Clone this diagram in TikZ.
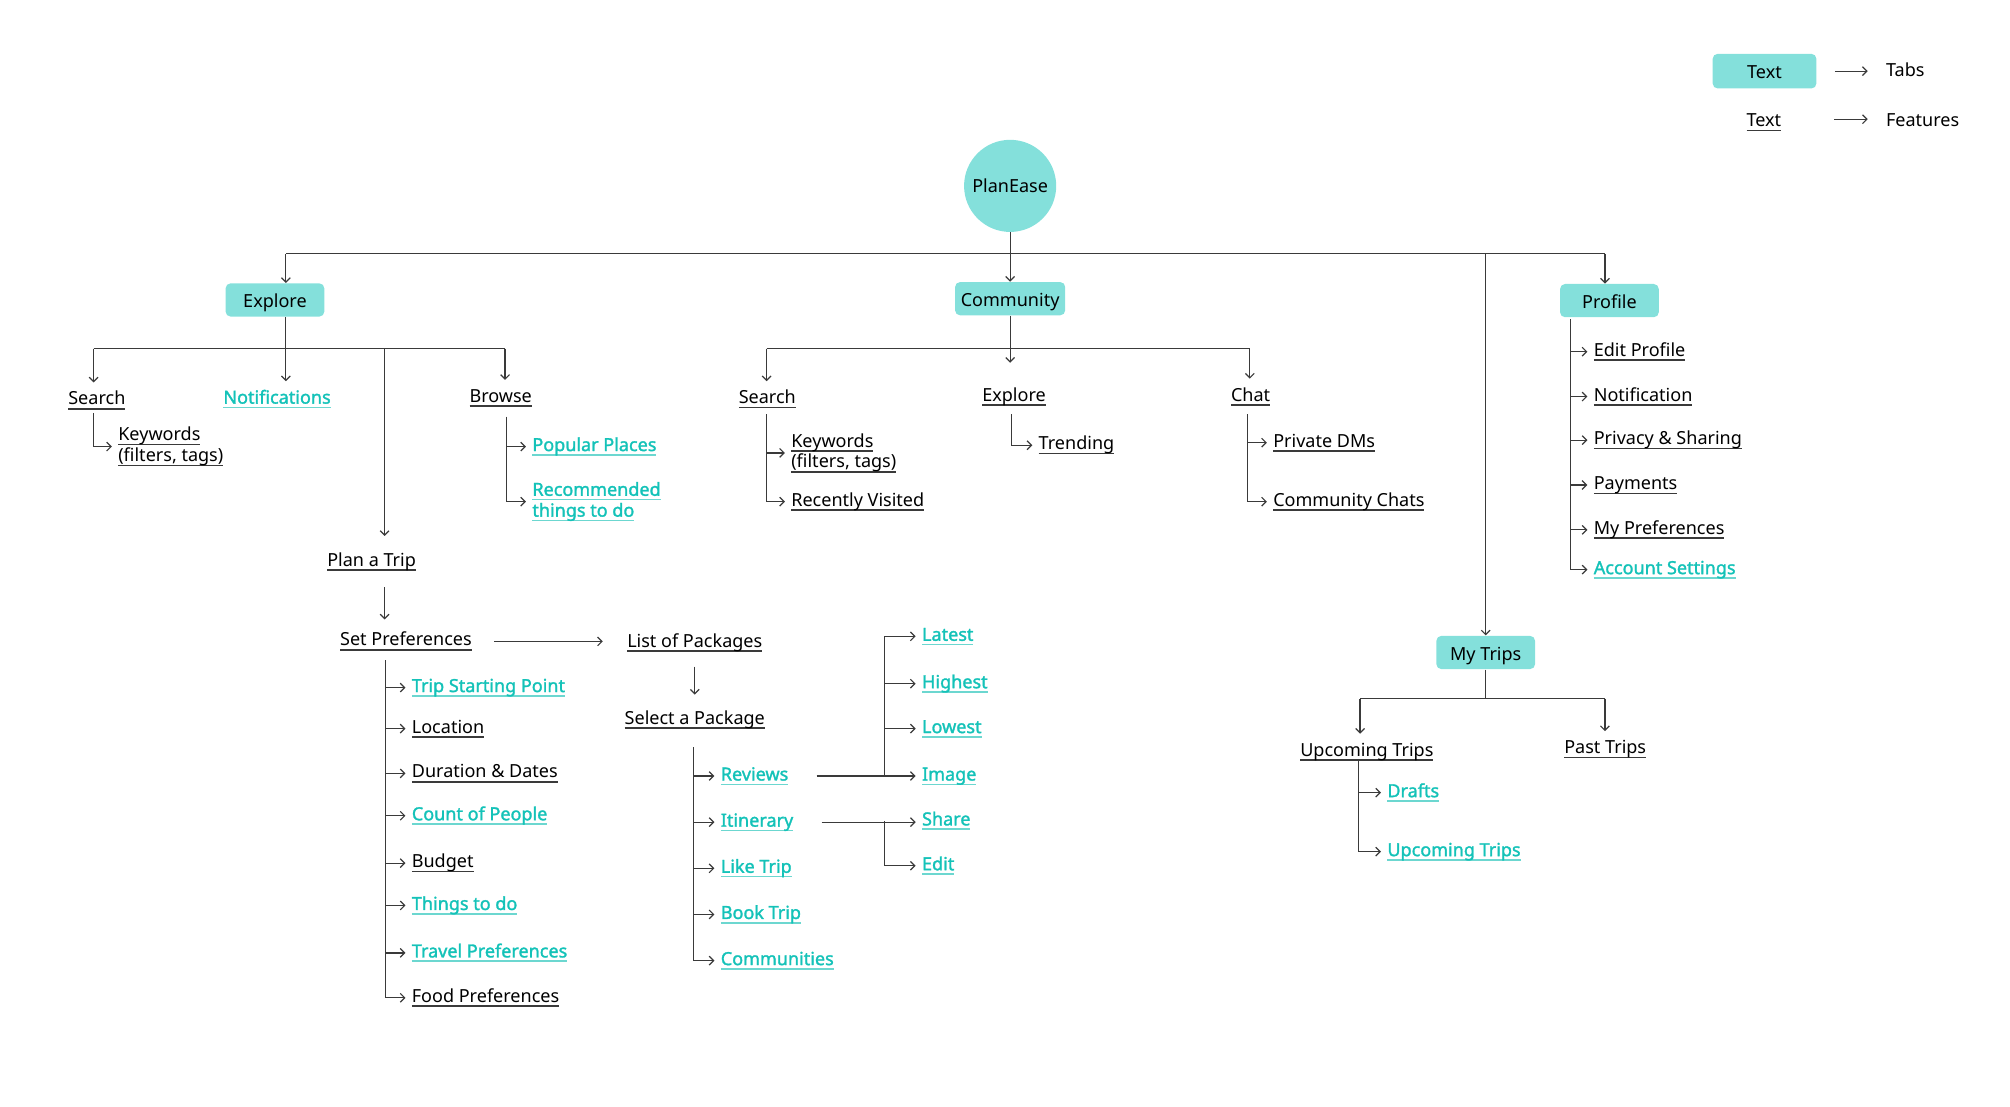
\documentclass[tikz,border=0pt]{standalone}
\usepackage{fontspec}
\setmainfont{Noto Sans}
\newfontfamily\semib{Noto Sans}[FakeBold=1.6]
\usetikzlibrary{arrows.meta,calc}
\definecolor{tabfill}{HTML}{84E0DB}
\definecolor{tealtxt}{HTML}{14C2B8}
\definecolor{tealul}{HTML}{6CD7D0}
\definecolor{ln}{HTML}{3A3A3A}
\newcommand\ulin[2]{\setbox0\hbox{#2}\rlap{\color{#1}\rule[-2.3pt]{\wd0}{0.8pt}}\box0}
\newcommand\uk[1]{\ulin{ln}{#1}}
\newcommand\ut[1]{\ulin{tealul}{#1}}
\begin{document}
\begin{tikzpicture}[x=0.64pt,y=-0.64pt,
  line/.style={draw=ln, line width=0.6pt},
  arr/.style={line, -{Straight Barb[length=2.2pt,width=4.4pt,line width=0.6pt]}},
  drop/.style={arr, shorten >=4pt},
  br/.style={arr, shorten >=3pt},
  tab/.style={fill=tabfill, rounded corners=2.5pt, minimum height=16.6pt, inner sep=0pt, text height=8.5pt, text depth=1pt, font=\fontsize{9}{11}\selectfont},
  feat/.style={inner sep=0pt, anchor=west, yshift=-1.5pt, text height=7pt, text depth=2.5pt, font=\fontsize{9}{11}\selectfont},
  hl/.style={feat, text=tealtxt, font=\fontsize{9}{11}\selectfont\semib},
  feat2/.style={inner sep=0pt, anchor=west, yshift=-1.5pt, align=left, font=\fontsize{9}{10.4}\selectfont},
  hl2/.style={feat2, text=tealtxt, font=\fontsize{9}{10.4}\selectfont\semib},
]
\useasboundingbox (0,0) rectangle (1568,863);

% ---------- tabs ----------
\node[circle, fill=tabfill, minimum size=46pt, inner sep=0pt, font=\fontsize{9}{11}\selectfont] (planease) at (788,145) {PlanEase};
\node[tab, minimum width=49.3pt] (explore) at (214.5,234) {Explore};
\node[tab, minimum width=55pt] (community) at (788,233) {Community};
\node[tab, minimum width=49.3pt] (profile) at (1255.5,234.5) {Profile};
\node[tab, minimum width=49.3pt] (mytrips) at (1159,509) {My Trips};

% ---------- legend ----------
\node[tab, minimum width=51.8pt, minimum height=17.3pt] (legtab) at (1376.5,55.5) {Text};
\node[feat, anchor=center] (legfeat) at (1376,93) {\uk{Text}};
\node[feat] (tabs) at (1471,54) {Tabs};
\node[feat] (features) at (1471,93) {Features};
\draw[arr, shorten <=9pt, shorten >=9pt] (legtab.east) -- (legtab.east -| tabs.west);
\draw[arr] (1431,93) coordinate (lf1) -- (1457,93) coordinate (lf2);

% ---------- explore ----------
\node[feat] (exsearch) at (53,310) {\uk{Search}};
\node[hl] (notif) at (174,309) {\ut{Notifications}};
\node[feat] (browse) at (366,308) {\uk{Browse}};
\node[feat] (plantrip) at (255,436) {\uk{Plan a Trip}};
\node[feat2] (exkw) at (92,346) {\uk{Keywords}\\\uk{(filters, tags)}};
\node[hl] (popular) at (415,346) {\ut{Popular Places}};
\node[hl2] (recommended) at (415,389) {\ut{Recommended}\\\ut{things to do}};

% ---------- plan a trip ----------
\node[feat] (setpref) at (265,498) {\uk{Set Preferences}};
\node[feat] (listpk) at (489,499) {\uk{List of Packages}};
\node[feat] (selpk) at (487,559) {\uk{Select a Package}};

\node[hl] (tsp) at (321,534) {\ut{Trip Starting Point}};
\node[feat] (loc) at (321,566) {\uk{Location}};
\node[feat] (dur) at (321,601) {\uk{Duration \& Dates}};
\node[hl] (cnt) at (321,634) {\ut{Count of People}};
\node[feat] (bud) at (321,671) {\uk{Budget}};
\node[hl] (thg) at (321,704) {\ut{Things to do}};
\node[hl] (trv) at (321,741) {\ut{Travel Preferences}};
\node[feat] (food) at (321,776) {\uk{Food Preferences}};

\node[hl] (rev) at (562,603) {\ut{Reviews}};
\node[hl] (iti) at (562,639) {\ut{Itinerary}};
\node[hl] (like) at (562,675) {\ut{Like Trip}};
\node[hl] (book) at (562,711) {\ut{Book Trip}};
\node[hl] (comm) at (562,747) {\ut{Communities}};

\node[hl] (latest) at (719,494) {\ut{Latest}};
\node[hl] (highest) at (719,531) {\ut{Highest}};
\node[hl] (lowest) at (719,566) {\ut{Lowest}};
\node[hl] (image) at (719,603) {\ut{Image}};
\node[hl] (share) at (719,638) {\ut{Share}};
\node[hl] (edit) at (719,673) {\ut{Edit}};

% ---------- community ----------
\node[feat] (csearch) at (576,309) {\uk{Search}};
\node[feat] (cexplore) at (766,307) {\uk{Explore}};
\node[feat] (chat) at (960,307) {\uk{Chat}};
\node[feat2] (ckw) at (617,351) {\uk{Keywords}\\\uk{(filters, tags)}};
\node[feat] (recent) at (617,389) {\uk{Recently Visited}};
\node[feat] (trending) at (810,345) {\uk{Trending}};
\node[feat] (dms) at (993,343) {\uk{Private DMs}};
\node[feat] (cchats) at (993,389) {\uk{Community Chats}};

% ---------- profile ----------
\node[feat] (editp) at (1243,272) {\uk{Edit Profile}};
\node[feat] (pnotif) at (1243,307) {\uk{Notification}};
\node[feat] (priv) at (1243,341) {\uk{Privacy \& Sharing}};
\node[feat] (pay) at (1243,376) {\uk{Payments}};
\node[feat] (mypref) at (1243,411) {\uk{My Preferences}};
\node[hl] (acct) at (1243,442) {\ut{Account Settings}};

% ---------- my trips ----------
\node[feat] (upcoming) at (1014,584) {\uk{Upcoming Trips}};
\node[feat] (past) at (1220,582) {\uk{Past Trips}};
\node[hl] (drafts) at (1082,616) {\ut{Drafts}};
\node[hl] (upc2) at (1082,662) {\ut{Upcoming Trips}};

% ---------- coordinates ----------
\coordinate (bx1) at (223,198);
\coordinate (bx3) at (1159,198);
\coordinate (bx4) at (1252,198);
\coordinate (eb1) at (73,272);
\coordinate (eb3) at (300,272);
\coordinate (eb4) at (394,272);
\coordinate (ebv) at (395,325);
\coordinate (ekv) at (73,322);
\coordinate (ptv) at (300,458);
\coordinate (spv) at (301,515);
\coordinate (pkv) at (541,583);
\coordinate (sv) at (690,494);
\coordinate (cmid) at (788,283);
\coordinate (cb1) at (598,272);
\coordinate (cb3) at (975,272);
\coordinate (csv) at (598,323);
\coordinate (cev) at (789,323);
\coordinate (chv) at (973,323);
\coordinate (pv) at (1225,249);
\coordinate (mb) at (1159,545);
\coordinate (mb1) at (1061,545);
\coordinate (mb2) at (1252,545);
\coordinate (upv) at (1060,592);

% ---------- top level ----------
\draw[line] (bx1) -- (bx4);
\draw[arr] (planease.south) -- (community.north);
\draw[arr] (bx1) -- (bx1 |- explore.north);
\draw[arr] (bx3) -- (bx3 |- mytrips.north);
\draw[arr] (bx4) -- (bx4 |- profile.north);

% ---------- explore connectors ----------
\draw[drop] (explore.south -| bx1) -- (bx1 |- notif.north);
\draw[line] (eb1) -- (eb4);
\draw[drop] (eb1) -- (eb1 |- exsearch.north);
\draw[arr, shorten >=8pt] (eb3) -- (eb3 |- plantrip.north);
\draw[drop] (eb4) -- (eb4 |- browse.north);
\draw[br] (ekv) |- (exkw.west);
\draw[line] (ebv) -- (ebv |- recommended.west);
\draw[br] (ebv |- popular.west) -- (popular.west);
\draw[br] (ebv |- recommended.west) -- (recommended.west);

% ---------- plan a trip connectors ----------
\draw[arr, shorten >=6pt] (ptv) -- (ptv |- setpref.north);
\draw[arr, shorten <=11pt, shorten >=12pt] (setpref.east) -- (setpref.east -| listpk.west);
\draw[arr, shorten <=7pt, shorten >=7.5pt] (listpk.south) -- (listpk.south |- selpk.north);
\draw[line] (spv) -- (spv |- food.west);
\foreach \n in {tsp,loc,dur,cnt,bud,thg,trv,food} \draw[br] (spv |- \n.west) -- (\n.west);
\draw[line] (pkv) -- (pkv |- comm.west);
\foreach \n in {rev,iti,like,book,comm} \draw[br] (pkv |- \n.west) -- (\n.west);
\draw[br, shorten <=14pt] (rev.east) -- (image.west);
\draw[line] (sv |- latest.west) -- (sv |- image.west);
\foreach \n in {latest,highest,lowest} \draw[br] (sv |- \n.west) -- (\n.west);
\draw[br, shorten <=14pt] (iti.east) -- (iti.east -| share.west);
\draw[line] (sv |- share.west) -- (sv |- edit.west);
\draw[br] (sv |- edit.west) -- (edit.west);

% ---------- community connectors ----------
\draw[arr] (community.south) -- (cmid);
\draw[line] (cb1) -- (cb3);
\draw[drop] (cb1) -- (cb1 |- csearch.north);
\draw[drop] (cb3) -- (cb3 |- chat.north);
\draw[line] (csv) -- (csv |- recent.west);
\draw[br] (csv |- ckw.west) -- (ckw.west);
\draw[br] (csv |- recent.west) -- (recent.west);
\draw[br] (cev) |- (trending.west);
\draw[line] (chv) -- (chv |- cchats.west);
\draw[br] (chv |- dms.west) -- (dms.west);
\draw[br] (chv |- cchats.west) -- (cchats.west);

% ---------- profile connectors ----------
\draw[line] (pv) -- (pv |- acct.west);
\foreach \n in {editp,pnotif,priv,pay,mypref,acct} \draw[br] (pv |- \n.west) -- (\n.west);

% ---------- my trips connectors ----------
\draw[line] (mytrips.south) -- (mb);
\draw[line] (mb1) -- (mb2);
\draw[drop] (mb1) -- (mb1 |- upcoming.north);
\draw[drop] (mb2) -- (mb2 |- past.north);
\draw[line] (upv) -- (upv |- upc2.west);
\draw[br] (upv |- drafts.west) -- (drafts.west);
\draw[br] (upv |- upc2.west) -- (upc2.west);
\end{tikzpicture}
\end{document}
